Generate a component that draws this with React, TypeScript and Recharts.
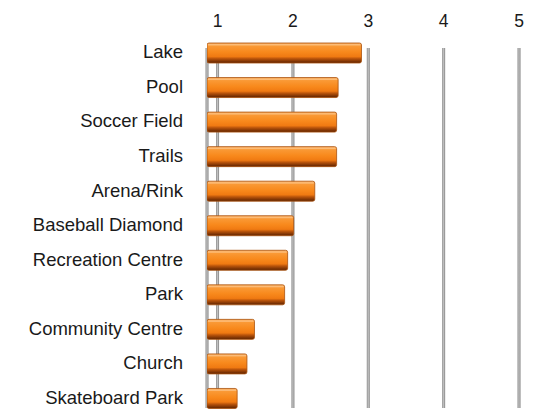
import React from 'react';
import { BarChart, Bar, XAxis, YAxis, CartesianGrid } from 'recharts';

const categories = [
  'Lake',
  'Pool',
  'Soccer Field',
  'Trails',
  'Arena/Rink',
  'Baseball Diamond',
  'Recreation Centre',
  'Park',
  'Community Centre',
  'Church',
  'Skateboard Park',
];
const scores = [2.91, 2.6, 2.58, 2.58, 2.29, 2.01, 1.93, 1.89, 1.49, 1.39, 1.26];
const axisTicks = [1, 2, 3, 4, 5];

const chartData = categories.map((name, i) => ({ name, score: scores[i] }));

const FONT = '"Liberation Sans", Arial, Helvetica, sans-serif';

// grey post behind the bars (perspective look of the original)
const renderGridLine = (props: any) => {
  const { x1, y1, y2, index } = props;
  return (
    <rect
      key={`grid-${index}-${x1}`}
      x={x1 - 1.5}
      y={y1 + 12}
      width={3}
      height={y2 - y1 - 20}
      fill="url(#postGrad)"
    />
  );
};

// orange bar with a dark lower edge
const GlossyBar = (props: any) => {
  const { x, y, width, height } = props;
  if (!width || width <= 0) return null;
  return (
    <g>
      <rect x={x} y={y} width={width} height={height} rx={2} fill="url(#barGrad)" stroke="#a9520e" strokeWidth={0.8} />
      <rect x={x + 1} y={y + 1} width={Math.max(width - 2, 0)} height={1.5} fill="#fcc283" opacity={0.8} />
    </g>
  );
};

const App: React.FC = () => {
  return (
    <div style={{ position: 'absolute', left: 0, top: 0, width: 535, height: 413, overflow: 'hidden', background: '#fff' }}>
      <BarChart
        width={535}
        height={416}
        data={chartData}
        layout="vertical"
        margin={{ top: 0, right: 16, bottom: 0, left: 0 }}
        barSize={20}
      >
        <defs>
          <linearGradient id="barGrad" x1="0" y1="0" x2="0" y2="1">
            <stop offset="0%" stopColor="#fbb062" />
            <stop offset="12%" stopColor="#fa9b38" />
            <stop offset="45%" stopColor="#f8891c" />
            <stop offset="68%" stopColor="#f07a12" />
            <stop offset="78%" stopColor="#bb550b" />
            <stop offset="100%" stopColor="#5c2100" />
          </linearGradient>
          <linearGradient id="postGrad" x1="0" y1="0" x2="1" y2="0">
            <stop offset="0%" stopColor="#8a8a8a" />
            <stop offset="50%" stopColor="#c2c2c2" />
            <stop offset="100%" stopColor="#7e7e7e" />
          </linearGradient>
        </defs>
        <CartesianGrid horizontal={false} vertical={renderGridLine} />
        <XAxis
          type="number"
          orientation="top"
          domain={[0.86, 5]}
          ticks={axisTicks}
          allowDataOverflow
          height={36}
          axisLine={false}
          tickLine={false}
          tickSize={0}
          tickMargin={9}
          tick={{ fill: '#1a1a1a', fontSize: 17.5, fontFamily: FONT }}
        />
        <YAxis
          type="category"
          dataKey="name"
          width={207}
          axisLine={false}
          tickLine={false}
          tickSize={0}
          tickMargin={24}
          interval={0}
          tick={{ fill: '#1a1a1a', fontSize: 18.5, fontFamily: FONT, dy: -1.5 }}
        />
        <Bar dataKey="score" shape={<GlossyBar />} isAnimationActive={false} />
      </BarChart>
    </div>
  );
};

export default App;
